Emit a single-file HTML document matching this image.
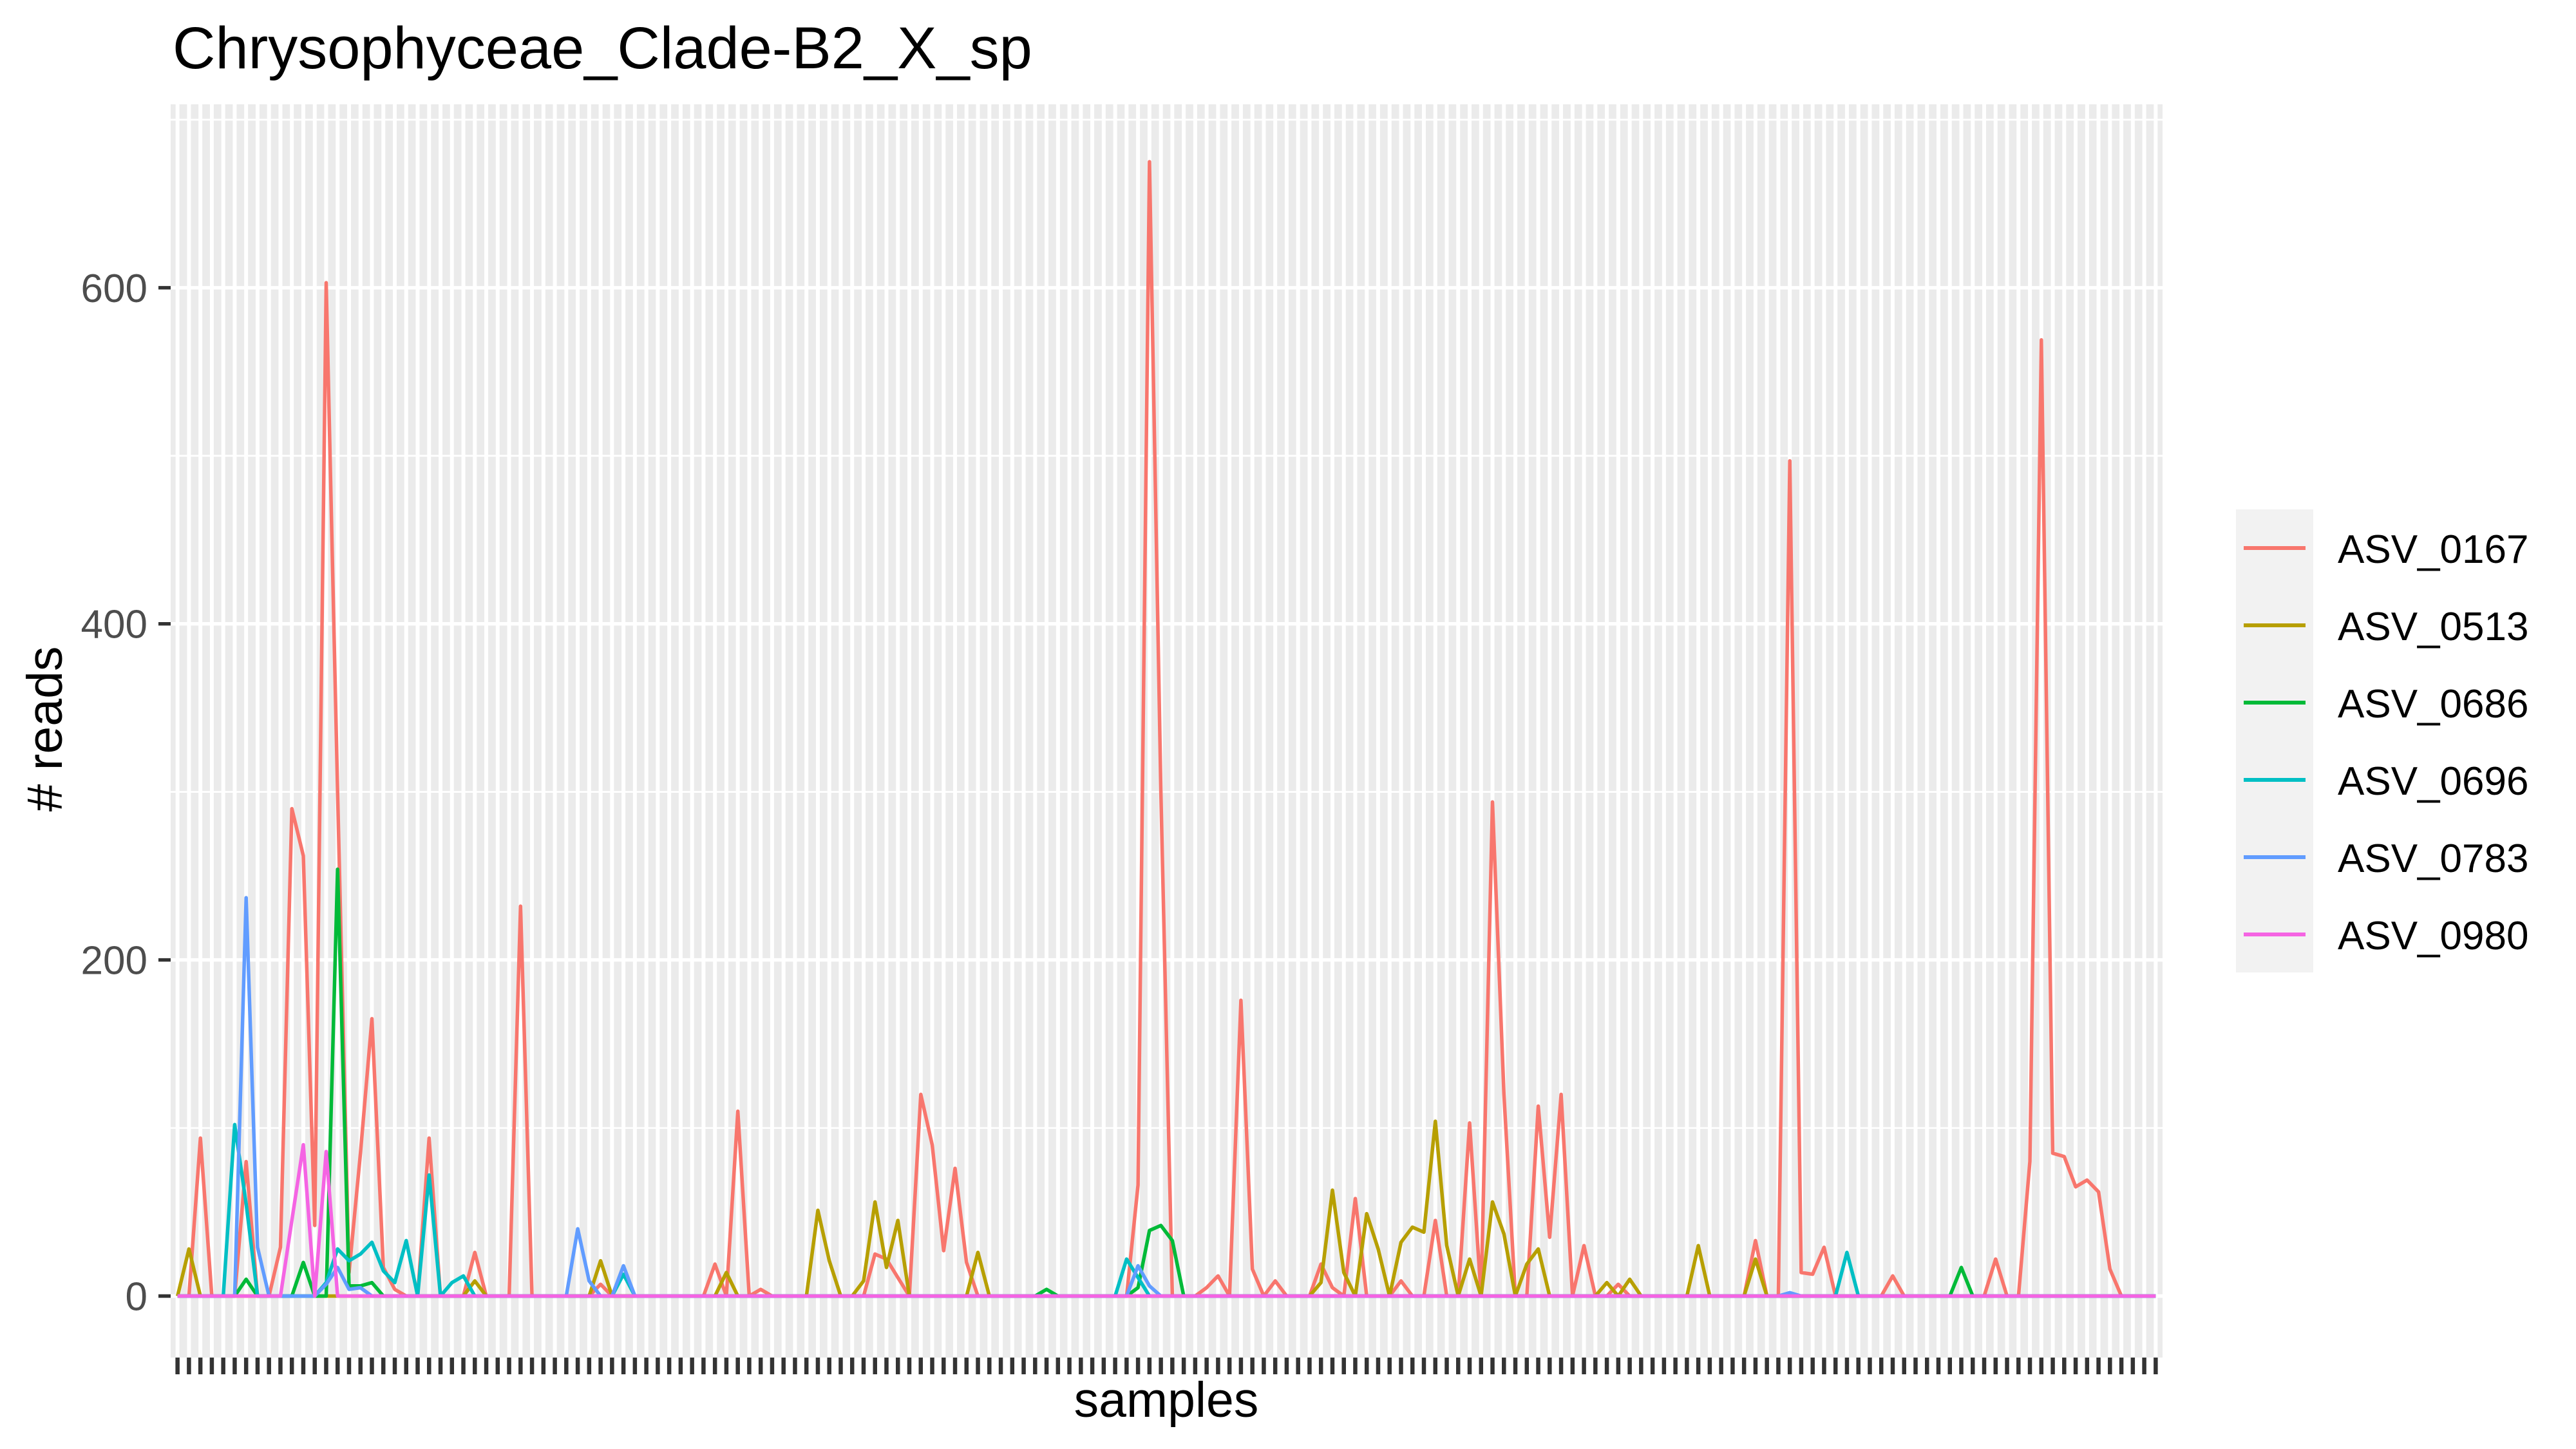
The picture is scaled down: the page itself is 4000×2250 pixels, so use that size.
<!DOCTYPE html>
<html><head><meta charset="utf-8"><style>
html,body{margin:0;padding:0;background:#fff;}
svg{display:block;font-family:"Liberation Sans",Arial,sans-serif;}
</style></head><body>
<svg id="chart" width="4000" height="2250" viewBox="0 0 4000 2250" xmlns="http://www.w3.org/2000/svg">
<text x="268" y="106" font-size="92" fill="#000">Chrysophyceae_Clade-B2_X_sp</text>
<rect x="265" y="162" width="3093" height="1946" fill="#ebebeb"/>
<g id="grid"></g>
<g id="series"></g>
<g id="axes"></g>
<text transform="translate(96,1132) rotate(-90)" text-anchor="middle" font-size="77" fill="#000"># reads</text>
<text x="1811" y="2200" text-anchor="middle" font-size="77" fill="#000">samples</text>
<g>
<rect x="3472" y="791" width="120" height="719" fill="#f2f2f2"/>
<g id="legend"></g>
</g>
</svg>
<script>
const seriesNames = ["ASV_0167","ASV_0513","ASV_0686","ASV_0696","ASV_0783","ASV_0980"];
const seriesColors = ["#F8766D","#B79F00","#00BA38","#00BFC4","#619CFF","#F564E3"];
const yTicks = [0,200,400,600];
const yMinor = [100,300,500,700];
const asv0167 = [0,0,94,0,0,0,80,0,0,29, 290,262,42,603,300,14,85,165,17,4, 0,0,94,0,0,0,26,0,0,0, 232,0,0,0,0,0,0,7,0,0, 0,0,0,0,0,0,0,19,0,110, 0,4,0,0,0,0,0,0,0,0, 0,25,22,11,0,120,90,27,76,20, 0,0,0,0,0,0,0,0,0,0, 0,0,0,0,66,675,300,0,0,0, 5,12,0,176,16,0,9,0,0,0, 19,5,0,58,0,0,0,9,0,0, 45,0,0,103,0,294,120,0,0,113, 35,120,0,30,0,0,7,0,0,0, 0,0,0,0,0,0,0,0,33,0, 0,497,14,13,29,0,0,0,0,0, 12,0,0,0,0,0,0,0,0,22, 0,0,80,569,85,83,65,69,62,16, 0,0,0,0];
const asv0513 = [0,28,0,0,0,0,0,0,0,0, 0,0,0,0,0,0,0,0,0,0, 0,0,0,0,0,0,9,0,0,0, 0,0,0,0,0,0,0,21,0,0, 0,0,0,0,0,0,0,0,14,0, 0,0,0,0,0,0,51,21,0,0, 9,56,17,45,0,0,0,0,0,0, 26,0,0,0,0,0,0,0,0,0, 0,0,0,0,0,0,0,0,0,0, 0,0,0,0,0,0,0,0,0,0, 8,63,14,0,49,28,0,32,41,38, 104,30,0,22,0,56,37,0,19,28, 0,0,0,0,0,8,0,10,0,0, 0,0,0,30,0,0,0,0,22,0, 0,0,0,0,0,0,0,0,0,0, 0,0,0,0,0,0,0,0,0,0, 0,0,0,0,0,0,0,0,0,0, 0,0,0,0];
const asv0686 = [0,0,0,0,0,0,10,0,0,0, 0,20,0,0,254,6,6,8,0,0, 0,0,0,0,0,0,0,0,0,0, 0,0,0,0,0,0,0,0,0,0, 0,0,0,0,0,0,0,0,0,0, 0,0,0,0,0,0,0,0,0,0, 0,0,0,0,0,0,0,0,0,0, 0,0,0,0,0,0,4,0,0,0, 0,0,0,0,5,39,42,33,0,0, 0,0,0,0,0,0,0,0,0,0, 0,0,0,0,0,0,0,0,0,0, 0,0,0,0,0,0,0,0,0,0, 0,0,0,0,0,0,0,0,0,0, 0,0,0,0,0,0,0,0,0,0, 0,0,0,0,0,0,0,0,0,0, 0,0,0,0,0,0,17,0,0,0, 0,0,0,0,0,0,0,0,0,0, 0,0,0,0];
const asv0696 = [0,0,0,0,0,102,55,0,0,0, 0,0,0,8,28,21,25,32,15,8, 33,0,72,0,8,12,0,0,0,0, 0,0,0,0,0,0,0,0,0,13, 0,0,0,0,0,0,0,0,0,0, 0,0,0,0,0,0,0,0,0,0, 0,0,0,0,0,0,0,0,0,0, 0,0,0,0,0,0,0,0,0,0, 0,0,0,22,11,0,0,0,0,0, 0,0,0,0,0,0,0,0,0,0, 0,0,0,0,0,0,0,0,0,0, 0,0,0,0,0,0,0,0,0,0, 0,0,0,0,0,0,0,0,0,0, 0,0,0,0,0,0,0,0,0,0, 0,0,0,0,0,0,26,0,0,0, 0,0,0,0,0,0,0,0,0,0, 0,0,0,0,0,0,0,0,0,0, 0,0,0,0];
const asv0783 = [0,0,0,0,0,0,237,29,0,0, 0,0,0,7,17,4,5,0,0,0, 0,0,0,0,0,0,0,0,0,0, 0,0,0,0,0,40,9,0,0,18, 0,0,0,0,0,0,0,0,0,0, 0,0,0,0,0,0,0,0,0,0, 0,0,0,0,0,0,0,0,0,0, 0,0,0,0,0,0,0,0,0,0, 0,0,0,0,18,6,0,0,0,0, 0,0,0,0,0,0,0,0,0,0, 0,0,0,0,0,0,0,0,0,0, 0,0,0,0,0,0,0,0,0,0, 0,0,0,0,0,0,0,0,0,0, 0,0,0,0,0,0,0,0,0,0, 0,2,0,0,0,0,0,0,0,0, 0,0,0,0,0,0,0,0,0,0, 0,0,0,0,0,0,0,0,0,0, 0,0,0,0];
const asv0980 = [0,0,0,0,0,0,0,0,0,0, 45,90,0,86,0,0,0,0,0,0, 0,0,0,0,0,0,0,0,0,0, 0,0,0,0,0,0,0,0,0,0, 0,0,0,0,0,0,0,0,0,0, 0,0,0,0,0,0,0,0,0,0, 0,0,0,0,0,0,0,0,0,0, 0,0,0,0,0,0,0,0,0,0, 0,0,0,0,0,0,0,0,0,0, 0,0,0,0,0,0,0,0,0,0, 0,0,0,0,0,0,0,0,0,0, 0,0,0,0,0,0,0,0,0,0, 0,0,0,0,0,0,0,0,0,0, 0,0,0,0,0,0,0,0,0,0, 0,0,0,0,0,0,0,0,0,0, 0,0,0,0,0,0,0,0,0,0, 0,0,0,0,0,0,0,0,0,0, 0,0,0,0];
const seriesValues = [asv0167,asv0513,asv0686,asv0696,asv0783,asv0980];

const NS = "http://www.w3.org/2000/svg";
const panelL = 265, panelR = 3358, panelT = 162, panelB = 2108;
const nSamples = asv0167.length;
const step = (panelR - panelL) / (nSamples - 1 + 1.2);
function xPos(i){ return panelL + step * (0.6 + i); }
const y0px = 2012.5, pxPerUnit = 2.6095;
function yPos(v){ return y0px - v * pxPerUnit; }
function mk(tag, attrs, parent){
  const e = document.createElementNS(NS, tag);
  for (const k in attrs) e.setAttribute(k, attrs[k]);
  parent.appendChild(e);
  return e;
}
const grid = document.getElementById('grid');
yMinor.forEach(v => {
  const l = mk('line', {x1:panelL, x2:panelR, y1:yPos(v), y2:yPos(v), stroke:'#fff', 'stroke-width':2.7}, grid);
  
  
});
yTicks.forEach(v => {
  const l = mk('line', {x1:panelL, x2:panelR, y1:yPos(v), y2:yPos(v), stroke:'#fff', 'stroke-width':5.4}, grid);
  
  
});
for (let i = 0; i < nSamples; i++) {
  const l = mk('line', {x1:xPos(i), x2:xPos(i), y1:panelT, y2:panelB, stroke:'#fff', 'stroke-width':6}, grid);
  
  
}
const sg = document.getElementById('series');
seriesValues.forEach((vals, s) => {
  const pts = vals.map((v, i) => xPos(i).toFixed(1) + ',' + yPos(v).toFixed(1)).join(' ');
  const p = mk('polyline', {points:pts, fill:'none', stroke:seriesColors[s], 'stroke-width':5.5, 'stroke-linejoin':'round'}, sg);
  
  
});
const ax = document.getElementById('axes');
yTicks.forEach(v => {
  const t = mk('line', {x1:246, x2:265, y1:yPos(v), y2:yPos(v), stroke:'#333', 'stroke-width':5.4}, ax);
  
  
  const lb = mk('text', {x:229, y:yPos(v)+22, 'text-anchor':'end', 'font-size':62, fill:'#4d4d4d'}, ax);
  lb.textContent = String(v);
  
  
});
for (let i = 0; i < nSamples; i++) {
  const t = mk('line', {x1:xPos(i), x2:xPos(i), y1:panelB, y2:2134, stroke:'#333', 'stroke-width':6.5}, ax);
  
  
}
const lg = document.getElementById('legend');
seriesNames.forEach((n, s) => {
  const y = 851 + s * 120;
  const l = mk('line', {x1:3484, x2:3580, y1:y, y2:y, stroke:seriesColors[s], 'stroke-width':6}, lg);
  
  
  const t = mk('text', {x:3630, y:y+23, 'font-size':62, fill:'#000'}, lg);
  t.textContent = n;
  
  
});
</script>
</body></html>
